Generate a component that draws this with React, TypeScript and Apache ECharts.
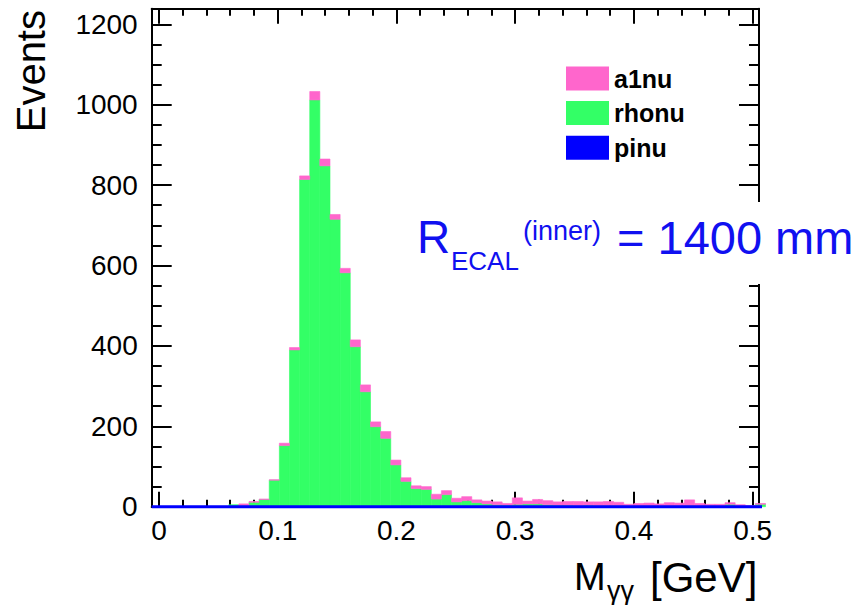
import React, { useEffect, useRef } from "react";
import * as echarts from "echarts";

// ---- data ----
const BIN_START = -0.001; // left edge of first bin (GeV)
const BIN_WIDTH = 0.00853; // GeV
const rhonu = [0, 0, 0, 0, 0, 0, 0, 5, 3, 11, 18, 66, 152, 390, 814, 1012, 848, 715, 582, 398, 286, 199, 170, 104, 63, 45, 43, 19, 30, 12, 15, 10, 7, 5, 4, 6, 7, 7, 5, 4, 4, 3, 4, 3, 3, 3, 2, 2, 2, 2, 2, 2, 3, 2, 2, 2, 6, 2, 1, 6];
const a1nu = [0, 0, 0, 0, 0, 0, 0, 0, 4, 2, 1, 1, 6, 6, 9, 21, 17, 12, 11, 17, 17, 12, 17, 12, 9, 7, 7, 12, 10, 9, 10, 7, 7, 7, 4, 16, 7, 11, 10, 8, 9, 10, 8, 9, 10, 8, 4, 6, 7, 5, 8, 7, 14, 6, 4, 4, 4, 3, 2, 2];
const pinu = [0, 0, 0, 0, 0, 0, 0, 0, 0, 0, 0, 0, 0, 0, 0, 0, 0, 0, 0, 0, 0, 0, 0, 0, 0, 0, 0, 0, 0, 0, 0, 0, 0, 0, 0, 0, 0, 0, 0, 0, 0, 0, 0, 0, 0, 0, 0, 0, 0, 0, 0, 0, 0, 0, 0, 0, 0, 0, 0, 0];
const seriesNames = ["a1nu", "rhonu", "pinu"];
const xTickLabels = [0, 0.1, 0.2, 0.3, 0.4, 0.5];
const yTickLabels = [0, 200, 400, 600, 800, 1000, 1200];
const xMinorTicks = [0, 0.02, 0.04, 0.06, 0.08, 0.1, 0.12, 0.14, 0.16, 0.18, 0.2, 0.22, 0.24, 0.26, 0.28, 0.3, 0.32, 0.34, 0.36, 0.38, 0.4, 0.42, 0.44, 0.46, 0.48, 0.5];
const yMinorTicks = [0, 50, 100, 150, 200, 250, 300, 350, 400, 450, 500, 550, 600, 650, 700, 750, 800, 850, 900, 950, 1000, 1050, 1100, 1150, 1200];

const X_MIN = -0.00615;
const X_MAX = 0.5053;
const Y_MAX = 1239;

const FONT = "'Liberation Sans', Arial, Helvetica, sans-serif";
const PINK = "#ff66cc";
const GREEN = "#33ff66";
const BLUE = "#0000ff";
const TEXT_BLUE = "#1010f0";

export default function App() {
  const ref = useRef<HTMLDivElement>(null);

  useEffect(() => {
    document.body.style.margin = "0";
    if (!ref.current) return;
    const chart = echarts.init(ref.current, null, { renderer: "svg" });

    const edge = (k: number) => BIN_START + k * BIN_WIDTH;
    const greenData: number[][] = [];
    const pinkData: number[][] = [];
    rhonu.forEach((g, k) => {
      const base = pinu[k];
      if (g > 0) greenData.push([edge(k), edge(k + 1), base, base + g]);
      if (a1nu[k] > 0) pinkData.push([edge(k), edge(k + 1), base + g, base + g + a1nu[k]]);
    });
    const lineData: number[][] = [[X_MIN, 0]];
    pinu.forEach((v, k) => lineData.push([edge(k), v]));
    lineData.push([edge(pinu.length), 0], [X_MAX, 0]);

    const makeRender = (color: string) => (params: any, api: any) => {
      const p0 = api.coord([api.value(0), api.value(3)]);
      const p1 = api.coord([api.value(1), api.value(2)]);
      return {
        type: "rect",
        shape: { x: p0[0], y: p0[1], width: p1[0] - p0[0], height: p1[1] - p0[1] },
        style: { fill: color, stroke: color, lineWidth: 0.6 },
      };
    };

    const axisLineStyle = { color: "#000", width: 2 };
    const baseX = { type: "value", min: X_MIN, max: X_MAX, gridIndex: 0, splitLine: { show: false } };
    const baseY = { type: "value", min: 0, max: Y_MAX, gridIndex: 0, splitLine: { show: false } };

    chart.setOption({
      animation: false,
      grid: { left: 151.7, right: 109, top: 8.7, bottom: 98.3, outerBoundsMode: "none" },
      legend: {
        orient: "vertical",
        left: 561,
        top: 61,
        itemWidth: 43,
        itemHeight: 24,
        itemGap: 9.6,
        icon: "rect",
        textStyle: { fontSize: 25, fontWeight: "bold", color: "#000", fontFamily: FONT },
        data: seriesNames,
      },
      xAxis: [
        {
          ...baseX,
          position: "bottom",
          axisLine: { show: true, onZero: false, lineStyle: axisLineStyle },
          axisTick: { show: true, inside: true, length: 15, lineStyle: axisLineStyle, customValues: xTickLabels },
          axisLabel: {
            show: true,
            customValues: xTickLabels,
            formatter: (v: number) => String(v),
            fontSize: 28,
            color: "#000",
            fontFamily: FONT,
            margin: 10,
          },
        },
        {
          ...baseX,
          position: "bottom",
          axisLine: { show: false, onZero: false },
          axisTick: { show: true, inside: true, length: 7, lineStyle: axisLineStyle, customValues: xMinorTicks },
          axisLabel: { show: false },
        },
        {
          ...baseX,
          position: "top",
          axisLine: { show: true, onZero: false, lineStyle: axisLineStyle },
          axisTick: { show: true, inside: true, length: 15, lineStyle: axisLineStyle, customValues: xTickLabels },
          axisLabel: { show: false },
        },
        {
          ...baseX,
          position: "top",
          axisLine: { show: false, onZero: false },
          axisTick: { show: true, inside: true, length: 7, lineStyle: axisLineStyle, customValues: xMinorTicks },
          axisLabel: { show: false },
        },
      ],
      yAxis: [
        {
          ...baseY,
          position: "left",
          axisLine: { show: true, onZero: false, lineStyle: axisLineStyle },
          axisTick: { show: true, inside: true, length: 20, lineStyle: axisLineStyle, customValues: yTickLabels },
          axisLabel: {
            show: true,
            customValues: yTickLabels,
            formatter: (v: number) => String(v),
            fontSize: 28,
            color: "#000",
            fontFamily: FONT,
            margin: 14,
          },
        },
        {
          ...baseY,
          position: "left",
          axisLine: { show: false, onZero: false },
          axisTick: { show: true, inside: true, length: 10, lineStyle: axisLineStyle, customValues: yMinorTicks },
          axisLabel: { show: false },
        },
        {
          ...baseY,
          position: "right",
          axisLine: { show: true, onZero: false, lineStyle: axisLineStyle },
          axisTick: { show: true, inside: true, length: 20, lineStyle: axisLineStyle, customValues: yTickLabels },
          axisLabel: { show: false },
        },
        {
          ...baseY,
          position: "right",
          axisLine: { show: false, onZero: false },
          axisTick: { show: true, inside: true, length: 10, lineStyle: axisLineStyle, customValues: yMinorTicks },
          axisLabel: { show: false },
        },
      ],
      series: [
        {
          name: "rhonu",
          type: "custom",
          xAxisIndex: 0,
          yAxisIndex: 0,
          itemStyle: { color: GREEN },
          renderItem: makeRender(GREEN),
          encode: { x: [0, 1], y: [2, 3] },
          data: greenData,
          z: 2,
        },
        {
          name: "a1nu",
          type: "custom",
          xAxisIndex: 0,
          yAxisIndex: 0,
          itemStyle: { color: PINK },
          renderItem: makeRender(PINK),
          encode: { x: [0, 1], y: [2, 3] },
          data: pinkData,
          z: 2,
        },
        {
          name: "pinu",
          type: "line",
          xAxisIndex: 0,
          yAxisIndex: 0,
          step: "end",
          symbol: "none",
          clip: false,
          itemStyle: { color: BLUE },
          lineStyle: { color: BLUE, width: 3 },
          data: lineData,
          z: 5,
        },
      ],
      graphic: [
        {
          type: "text",
          x: 31,
          y: 10,
          rotation: Math.PI / 2,
          style: { text: "Events", fontSize: 40, fontFamily: FONT, fill: "#000", align: "right", verticalAlign: "middle" },
        },
        {
          type: "text",
          x: 574,
          y: 577,
          style: { text: "M", fontSize: 38, fontFamily: FONT, fill: "#000", align: "left", verticalAlign: "middle" },
        },
        {
          type: "text",
          x: 607,
          y: 591,
          style: { text: "γγ", fontSize: 27, fontFamily: FONT, fill: "#000", align: "left", verticalAlign: "middle" },
        },
        {
          type: "text",
          x: 650,
          y: 577,
          style: { text: "[GeV]", fontSize: 42, fontFamily: FONT, fill: "#000", align: "left", verticalAlign: "middle" },
        },
        {
          type: "rect",
          z: 100,
          zlevel: 0,
          shape: { x: 408, y: 202, width: 460, height: 82 },
          style: { fill: "#ffffff" },
        },
        {
          type: "text",
          z: 101,
          x: 417,
          y: 237,
          style: { text: "R", fontSize: 46, fontFamily: FONT, fill: TEXT_BLUE, align: "left", verticalAlign: "middle" },
        },
        {
          type: "text",
          z: 101,
          x: 451,
          y: 261,
          style: { text: "ECAL", fontSize: 26, fontFamily: FONT, fill: TEXT_BLUE, align: "left", verticalAlign: "middle" },
        },
        {
          type: "text",
          z: 101,
          x: 523,
          y: 231,
          style: { text: "(inner)", fontSize: 27, fontFamily: FONT, fill: TEXT_BLUE, align: "left", verticalAlign: "middle" },
        },
        {
          type: "text",
          z: 101,
          x: 617,
          y: 237,
          style: { text: "= 1400 mm", fontSize: 47, fontFamily: FONT, fill: TEXT_BLUE, align: "left", verticalAlign: "middle" },
        },
      ],
    });

    return () => chart.dispose();
  }, []);

  return <div ref={ref} style={{ width: 868, height: 605 }} />;
}
